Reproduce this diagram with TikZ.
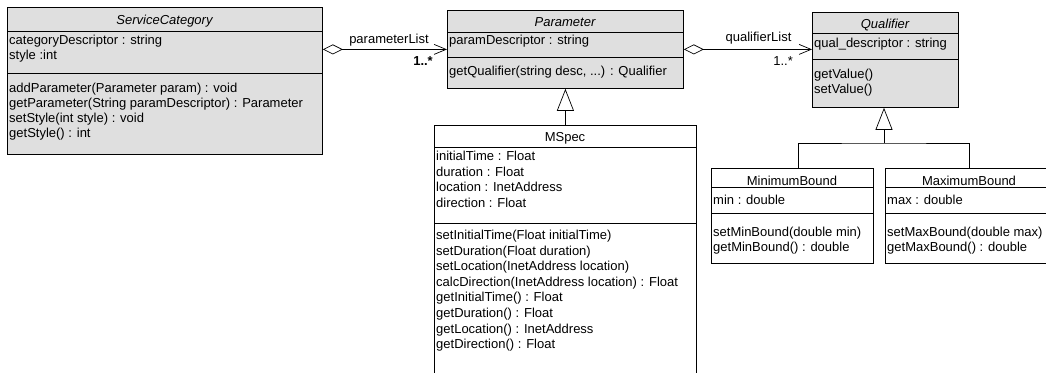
\documentclass[tikz,border=0pt]{standalone}
\usepackage{fontspec}
\setmainfont{Liberation Sans}
\usetikzlibrary{arrows.meta}
\definecolor{cfill}{HTML}{DFDFDF}
\newcommand\umlfont{\fontsize{13}{15}\selectfont}
\tikzset{
  box/.style={draw=black, line width=0.8pt, anchor=north west, inner sep=0pt},
  gbox/.style={box, fill=cfill},
  wbox/.style={box, fill=white},
  txt/.style={anchor=base west, inner sep=0pt, font=\umlfont},
  ttl/.style={anchor=base, inner sep=0pt, font=\umlfont},
  sepline/.style={line width=0.8pt},
  agg/.style={line width=0.7pt, {Diamond[open,length=20pt,width=10pt]}-{Straight Barb[length=12pt,width=10pt]}},
  gen/.style={line width=0.7pt, -{Triangle[open,length=22pt,width=17pt,fill=white]}},
  lbl/.style={inner sep=0pt, font=\umlfont},
}
\newcommand\umllines[5]{%
  \foreach \t [count=\i] in {#5} {\node[txt] (#1\i) at (#2, {#3+#4*(\i-1)}) {\t};}%
}
\begin{document}
\begin{tikzpicture}[x=1pt,y=-1pt]
\path[use as bounding box, clip] (0,0) rectangle (1046,372);
\fill[white] (0,0) rectangle (1046,372);

% ServiceCategory
\node[gbox, minimum width=315, minimum height=147] (sc) at (7,7) {};
\draw[sepline] (7,31) -- (322,31);
\draw[sepline] (7,73) -- (322,73);
\node[ttl] (sct) at (164.5,24) {\itshape ServiceCategory};
\umllines{sca}{9}{44.5}{15}{categoryDescriptor : string, style :int}
\umllines{scm}{9}{92.5}{15}{addParameter(Parameter param) : void, getParameter(String paramDescriptor) : Parameter, setStyle(int style) : void, getStyle() : int}

% Parameter
\node[gbox, minimum width=236, minimum height=78] (pa) at (447,10) {};
\draw[sepline] (447,32) -- (683,32);
\draw[sepline] (447,57) -- (683,57);
\node[ttl] (pat) at (565,26) {\itshape Parameter};
\node[txt] (paa1) at (449,44) {paramDescriptor : string};
\node[txt] (pam1) at (449,75.5) {getQualifier(string desc, ...) : Qualifier};

% Qualifier
\node[gbox, minimum width=146, minimum height=95] (q) at (812,12) {};
\draw[sepline] (812,33) -- (958,33);
\draw[sepline] (812,59) -- (958,59);
\node[ttl] (qt) at (885,28) {\itshape Qualifier};
\node[txt] (qa1) at (814,47.5) {qual\_descriptor : string};
\umllines{qm}{814}{78}{15}{getValue(), setValue()}

% MSpec
\node[wbox, minimum width=262, minimum height=300] (ms) at (434,125) {};
\draw[sepline] (434,147) -- (696,147);
\draw[sepline] (434,223) -- (696,223);
\node[ttl] (mst) at (565,141) {MSpec};
\umllines{msa}{436}{160.5}{15.6}{initialTime : Float, duration : Float, location : InetAddress, direction : Float}
\umllines{msm}{436}{239.5}{15.6}{setInitialTime(Float initialTime), setDuration(Float duration), setLocation(InetAddress location), calcDirection(InetAddress location) : Float, getInitialTime() : Float, getDuration() : Float, getLocation() : InetAddress, getDirection() : Float}

% MinimumBound
\node[wbox, minimum width=162, minimum height=95] (mn) at (711,168) {};
\draw[sepline] (711,187) -- (873,187);
\draw[sepline] (711,213) -- (873,213);
\node[ttl] (mnt) at (792,185.5) {MinimumBound};
\node[txt] (mna1) at (713,204) {min : double};
\umllines{mnm}{713}{236.5}{14.5}{setMinBound(double min), getMinBound() : double}

% MaximumBound
\node[wbox, minimum width=168, minimum height=95] (mx) at (885,168) {};
\draw[sepline] (885,187) -- (1053,187);
\draw[sepline] (885,213) -- (1053,213);
\node[ttl] (mxt) at (969,185.5) {MaximumBound};
\node[txt] (mxa1) at (887,204) {max : double};
\umllines{mxm}{887}{236.5}{14.5}{setMaxBound(double max), getMaxBound() : double}

% associations
\draw[agg] (sc.east |- pa.west) -- (pa.west);
\node[lbl, anchor=base] (l1) at (389,43) {parameterList};
\node[lbl, anchor=base east] (m1) at (433,65) {\bfseries 1..*};
\draw[agg] (pa.east) -- (pa.east -| q.west);
\node[lbl, anchor=base] (l2) at (758.5,41) {qualifierList};
\node[lbl, anchor=base east] (m2) at (793,65) {1..*};

% generalizations
\draw[gen] (ms.north) -- (pa.south);
\coordinate (qj) at (884,143);
\draw[gen] (qj) -- (qj |- q.south);
\draw[line width=0.7pt] ([xshift=6]mn.north) |- (qj) -| (mx.north);
\end{tikzpicture}
\end{document}
